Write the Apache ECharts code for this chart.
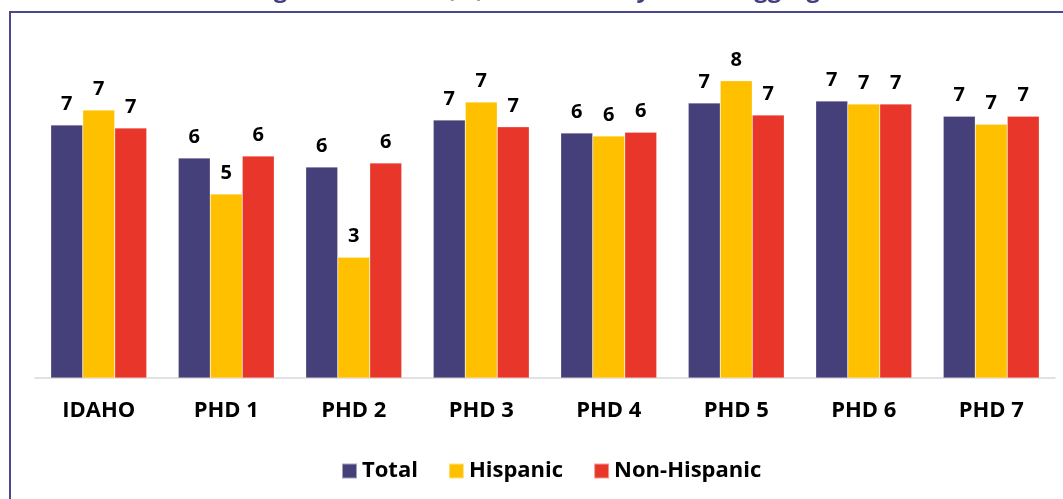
<!DOCTYPE html>
<html>
<head>
<meta charset="utf-8">
<script src="https://cdn.jsdelivr.net/npm/echarts@6/dist/echarts.min.js"></script>
<style>
html,body{margin:0;padding:0;background:#fff;}
#chart{width:1063px;height:499px;}
</style>
</head>
<body>
<div id="chart"></div>
<script>
const categories = ['IDAHO', 'PHD 1', 'PHD 2', 'PHD 3', 'PHD 4', 'PHD 5', 'PHD 6', 'PHD 7'];
const totalValues = [6.66, 5.79, 5.55, 6.79, 6.45, 7.24, 7.29, 6.89];
const hispanicValues = [7.05, 4.84, 3.18, 7.26, 6.37, 7.82, 7.21, 6.68];
const nonHispanicValues = [6.58, 5.84, 5.66, 6.61, 6.47, 6.92, 7.21, 6.89];
const seriesNames = ['Total', 'Hispanic', 'Non-Hispanic'];
const titleText = 'Average Total Score (%), 2015-2019 by Ethnic Aggregate';

const colors = ['#46407A', '#FFC000', '#E8372A'];
const font = '"Open Sans", sans-serif';
const chart = echarts.init(document.getElementById('chart'), null, {renderer: 'canvas'});

const labelCfg = {
  show: true,
  position: 'top',
  distance: 11,
  formatter: p => Math.round(p.value),
  fontFamily: font,
  fontWeight: 'bold',
  fontSize: 20,
  color: '#000'
};

function mkSeries(name, data, color) {
  return {
    name: name,
    type: 'bar',
    data: data,
    barWidth: 32,
    barGap: '0%',
    itemStyle: {color: color, borderColor: 'rgba(255,255,255,0.5)', borderWidth: 0.5},
    label: labelCfg
  };
}

chart.setOption({
  animation: false,
  backgroundColor: '#fff',
  title: {
    text: titleText,
    left: 'center',
    top: -27,
    textStyle: {fontFamily: font, fontWeight: 'bold', fontSize: 24, color: '#3F3F7F'}
  },
  graphic: [{
    type: 'rect',
    shape: {x: 10, y: 12, width: 1100, height: 600},
    style: {fill: 'none', stroke: '#4A4A8A', lineWidth: 2},
    silent: true,
    z: -1
  }],
  grid: {left: 35, right: 8, top: 36, bottom: 121},
  legend: {
    data: seriesNames,
    left: 336,
    top: 455,
    itemWidth: 15,
    itemHeight: 15,
    itemGap: 30,
    icon: 'rect',
    textStyle: {fontFamily: font, fontWeight: 'bold', fontSize: 22, color: '#000'}
  },
  xAxis: {
    type: 'category',
    data: categories,
    axisLine: {lineStyle: {color: '#D9D9D9', width: 1.5}},
    axisTick: {show: false},
    axisLabel: {fontFamily: font, fontWeight: 'bold', fontSize: 22, color: '#000', margin: 22}
  },
  yAxis: {
    type: 'value',
    min: 0,
    max: 9,
    show: false,
    splitLine: {show: false}
  },
  series: [
    mkSeries(seriesNames[0], totalValues, colors[0]),
    mkSeries(seriesNames[1], hispanicValues, colors[1]),
    mkSeries(seriesNames[2], nonHispanicValues, colors[2])
  ]
});
</script>
</body>
</html>
